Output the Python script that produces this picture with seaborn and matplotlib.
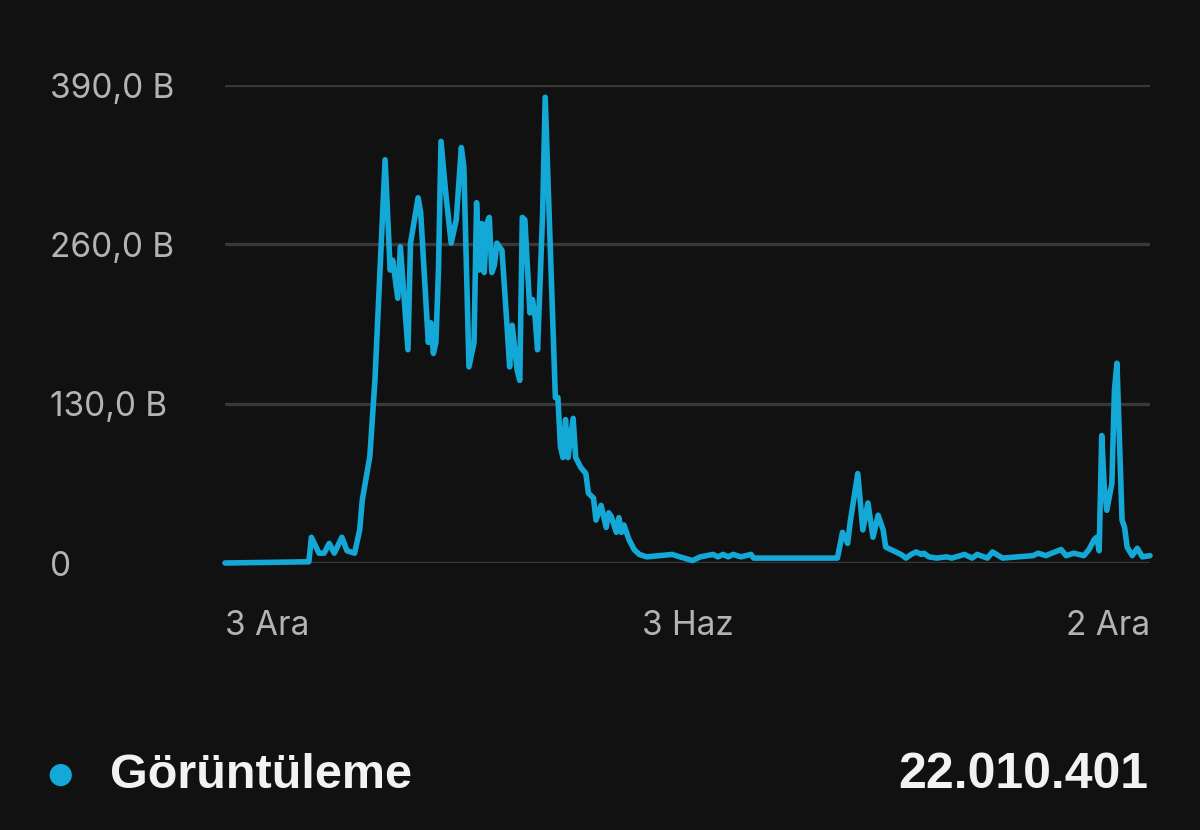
import matplotlib
matplotlib.use('Agg')

import pandas as pd
import matplotlib.pyplot as plt
import seaborn as sns

# Daily views (thousands, "B" = bin) at the days where the line turns
start_date = '2022-12-03'
day_offsets = [0, 33, 34, 37, 39, 41, 43, 46, 48, 51, 53, 54, 57, 59, 63,
               65, 66, 68, 69, 72, 73, 76, 77, 80, 81, 82, 83, 84, 85, 87,
               89, 91, 93, 94, 96, 98, 99, 100, 101, 102, 103, 104, 105, 106, 107,
               109, 111, 112, 113, 115, 116, 117, 118, 120, 121, 122, 123, 125, 126, 128,
               130, 131, 132, 133, 134, 135, 137, 138, 140, 142, 143, 145, 146, 148, 150,
               151, 152, 154, 155, 156, 157, 159, 161, 163, 166, 176, 179, 184, 187, 192,
               194, 196, 198, 200, 203, 207, 208, 241, 243, 245, 246, 249, 251, 253, 255,
               257, 259, 260, 262, 264, 266, 268, 270, 272, 274, 275, 277, 280, 284, 286,
               291, 294, 296, 300, 302, 306, 318, 320, 323, 329, 331, 334, 338, 340, 342,
               343, 344, 345, 346, 347, 349, 350, 351, 353, 354, 355, 357, 359, 361, 364]
views = [0, 1, 21, 8, 8, 16, 8, 21, 10, 8, 27, 51, 87, 149, 329,
         239, 247, 216, 258, 174, 261, 298, 286, 180, 196, 171, 180, 239, 344, 299,
         261, 280, 339, 323, 160, 180, 294, 239, 277, 237, 277, 282, 237, 243, 261,
         255, 193, 160, 194, 157, 149, 282, 280, 204, 215, 201, 174, 286, 380, 258,
         135, 135, 95, 86, 117, 86, 118, 86, 78, 73, 57, 53, 35, 47, 29,
         41, 38, 25, 37, 25, 31, 19, 11, 7, 5, 7, 5, 2, 5, 7,
         5, 7, 5, 7, 5, 7, 4, 4, 25, 16, 33, 73, 27, 49, 21,
         39, 27, 13, 11, 9, 7, 4, 7, 9, 7, 8, 5, 4, 5, 4,
         7, 4, 7, 4, 9, 4, 6, 8, 6, 11, 6, 8, 6, 11, 19,
         21, 10, 104, 62, 43, 65, 141, 163, 35, 29, 13, 6, 12, 5, 6]

y_ticks = [0, 130, 260, 390]
y_tick_labels = ['0', '130,0 B', '260,0 B', '390,0 B']
x_tick_days = [0, 182, 364]
x_tick_labels = ['3 Ara', '3 Haz', '2 Ara']
series_name = 'Görüntüleme'
total_views = '22.010.401'

bg = '#111111'
line_color = '#14a8d6'

df = pd.DataFrame({'date': pd.Timestamp(start_date) + pd.to_timedelta(day_offsets, unit='D'),
                   'views': views})

sns.set_style('dark')
plt.rcParams['font.family'] = ['Inter', 'DejaVu Sans']

fig = plt.figure(figsize=(12, 8.3), dpi=100, facecolor=bg)
ax = fig.add_axes([225 / 1200, 1 - 563 / 830, 925 / 1200, 478 / 830])
ax.set_facecolor(bg)

sns.lineplot(data=df, x='date', y='views', ax=ax, color=line_color,
             linewidth=4, solid_joinstyle='round', solid_capstyle='round', clip_on=False)

ax.set_ylim(0, 390)
x_dates = pd.Timestamp(start_date) + pd.to_timedelta(x_tick_days, unit='D')
ax.set_xlim(x_dates[0], x_dates[-1])

ax.set_yticks(y_ticks)
ax.set_yticklabels(y_tick_labels)
ax.set_xticks(x_dates)
ax.set_xticklabels(x_tick_labels)

ax.grid(axis='y', color='#383838', linewidth=2.4)
ax.grid(axis='x', visible=False)
ax.set_axisbelow(True)
for s in ax.spines.values():
    s.set_visible(False)

ax.tick_params(axis='y', length=0, pad=126, labelsize=24, labelcolor='#b3b3b3')
ax.tick_params(axis='x', length=0, pad=34, labelsize=24, labelcolor='#b3b3b3')
for lbl in ax.get_yticklabels():
    lbl.set_horizontalalignment('left')
xl = ax.get_xticklabels()
xl[0].set_horizontalalignment('left')
xl[-1].set_horizontalalignment('right')
ax.set_xlabel('')
ax.set_ylabel('')

# legend row at the bottom
fig.text(60 / 1200, 1 - 775 / 830, '\u25CF', color=line_color, fontsize=21,
         ha='center', va='center', family=['DejaVu Sans'])
fig.text(110 / 1200, 1 - 775 / 830, series_name, color='#f2f2f2', fontsize=35,
         fontweight='bold', ha='left', va='center', family=['Liberation Sans', 'DejaVu Sans'])
fig.text(1148 / 1200, 1 - 775 / 830, total_views, color='#f2f2f2', fontsize=36,
         fontweight='bold', ha='right', va='center', family=['Liberation Sans', 'DejaVu Sans'])

plt.savefig('out.png', dpi=100, facecolor=bg)
